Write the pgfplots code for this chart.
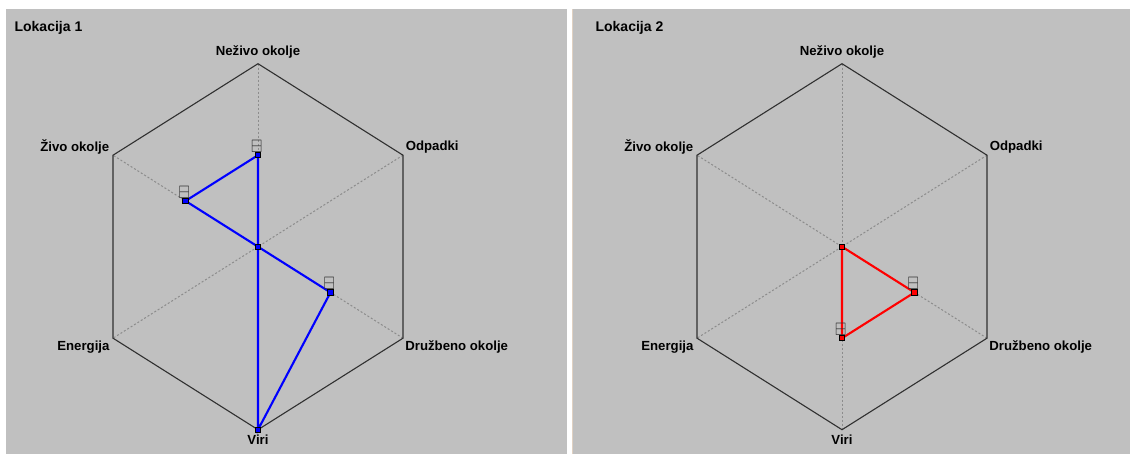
\documentclass[border=0pt]{standalone}
\usepackage{pgfplots}
\pgfplotsset{compat=1.18}
\usepackage{pgfplotstable}
\usepackage{amssymb}
\usepackage{fontspec}
\setmainfont{Liberation Sans}
\definecolor{bg}{HTML}{C0C0C0}
\definecolor{hexc}{HTML}{303030}
\definecolor{spoke}{HTML}{8C8C8C}

% angle (deg), value (0..1)
\pgfplotstableread{
a r
90 0.5
30 0
-30 0.5
-90 1
210 0
150 0.5
90 0.5
}\locA
\pgfplotstableread{
a r
90 0
30 0
-30 0.5
-90 0.5
210 0
150 0
90 0
}\locB

\pgfplotsset{
  radar/.style={
    hide axis, clip=false, anchor=origin,
    x={(83.7pt,0)}, y={(0,91.5pt)},
    xmin=-1.2, xmax=1.2, ymin=-1.2, ymax=1.2,
  },
}
\newcommand{\lbl}[1]{{\fontsize{6.6}{7.5}\selectfont\bfseries #1}}
\newcommand{\hexgrid}{%
  \draw[spoke, line width=0.5pt, dash pattern=on 1pt off 1pt] (axis cs:0,1) -- (axis cs:0,-1);
  \draw[spoke, line width=0.5pt, dash pattern=on 1pt off 1pt] (axis cs:0.8660,0.5) -- (axis cs:-0.8660,-0.5);
  \draw[spoke, line width=0.5pt, dash pattern=on 1pt off 1pt] (axis cs:0.8660,-0.5) -- (axis cs:-0.8660,0.5);
  \draw[hexc, line width=0.55pt] (axis cs:0,1) -- (axis cs:0.8660,0.5) -- (axis cs:0.8660,-0.5) -- (axis cs:0,-1) -- (axis cs:-0.8660,-0.5) -- (axis cs:-0.8660,0.5) -- cycle;
  \node[inner sep=0, anchor=center, yshift=6.1pt] at (axis cs:0,1) {\lbl{Neživo okolje}};
  \node[inner sep=0, anchor=west, xshift=1.2pt, yshift=4.2pt] at (axis cs:0.8660,0.5) {\lbl{Odpadki}};
  \node[inner sep=0, anchor=west, xshift=1.0pt, yshift=-4.6pt] at (axis cs:0.8660,-0.5) {\lbl{Družbeno okolje}};
  \node[inner sep=0, anchor=center, yshift=-5.2pt] at (axis cs:0,-1) {\lbl{Viri}};
  \node[inner sep=0, anchor=east, xshift=-1.6pt, yshift=-4.6pt] at (axis cs:-0.8660,-0.5) {\lbl{Energija}};
  \node[inner sep=0, anchor=east, xshift=-1.7pt, yshift=4.2pt] at (axis cs:-0.8660,0.5) {\lbl{Živo okolje}};
}
\newcommand{\vmark}{\scalebox{0.8}[1.0]{$\boxminus$}}

\begin{document}
\begin{tikzpicture}
\clip (0,0) rectangle (565pt,-227pt);
\fill[white] (0,0) rectangle (565pt,-227pt);
\fill[bg] (3pt,-4.5pt) rectangle (283.5pt,-227pt);
\fill[bg] (286.5pt,-4.5pt) rectangle (565pt,-227pt);
\fill[black!20!brown!30!white] (286pt,-4.5pt) rectangle (286.6pt,-227pt);
\node[inner sep=0, anchor=west] at (7.1pt,-14.1pt) {\fontsize{7}{8}\selectfont\bfseries Lokacija 1};
\node[inner sep=0, anchor=west] at (297.6pt,-14.1pt) {\fontsize{7}{8}\selectfont\bfseries Lokacija 2};

\begin{axis}[radar, at={(129pt,-123.35pt)}]
  \hexgrid
  \addplot[blue, line width=1.05pt, mark=square*, mark size=1.35pt,
    mark options={fill=blue, draw=black, line width=0.45pt}]
    table[x expr={\thisrow{r}*cos(\thisrow{a})}, y expr={\thisrow{r}*sin(\thisrow{a})}] {\locA};
  \addplot[draw=none, mark=none, nodes near coords={\vmark},
    every node near coord/.append style={black!80, inner sep=0, anchor=south, yshift=1.2pt, xshift=-0.6pt, font=\small}]
    table[x expr={\thisrow{r}*cos(\thisrow{a})}, y expr={\thisrow{r}*sin(\thisrow{a})}] {
a r
90 0.5
-30 0.5
150 0.5
};
\end{axis}

\begin{axis}[radar, at={(421pt,-123.35pt)}]
  \hexgrid
  \addplot[red, line width=1.05pt, mark=square*, mark size=1.35pt,
    mark options={fill=red, draw=black, line width=0.45pt}]
    table[x expr={\thisrow{r}*cos(\thisrow{a})}, y expr={\thisrow{r}*sin(\thisrow{a})}] {\locB};
  \addplot[draw=none, mark=none, nodes near coords={\vmark},
    every node near coord/.append style={black!80, inner sep=0, anchor=south, yshift=1.2pt, xshift=-0.6pt, font=\small}]
    table[x expr={\thisrow{r}*cos(\thisrow{a})}, y expr={\thisrow{r}*sin(\thisrow{a})}] {
a r
-30 0.5
-90 0.5
};
\end{axis}
\end{tikzpicture}
\end{document}
